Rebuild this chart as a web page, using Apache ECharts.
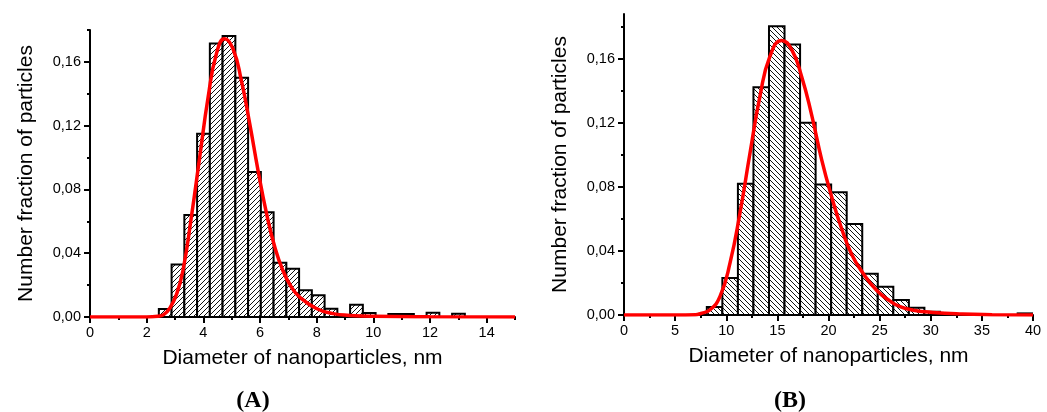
<!DOCTYPE html>
<html>
<head>
<meta charset="utf-8">
<script src="https://cdn.jsdelivr.net/npm/echarts@6/dist/echarts.min.js"></script>
<style>
  html, body { margin: 0; padding: 0; background: #ffffff; }
  #chart { width: 1047px; height: 412px; }
</style>
</head>
<body>
<div id="chart"></div>
<script>
// ---------------- DATA ----------------
// Panel A: histogram bins (left edges, nm), common bin width, number fractions
const binLeftA = [2.43, 2.88, 3.33, 3.78, 4.23, 4.68, 5.13, 5.58, 6.03, 6.48, 6.93, 7.38, 7.83, 8.28, 8.73, 9.18, 9.63, 10.53, 10.98, 11.88, 12.78];
const binWidthA = 0.45;
const fracA = [0.005, 0.033, 0.064, 0.115, 0.1715, 0.1763, 0.150, 0.091, 0.0657, 0.0341, 0.0303, 0.0167, 0.0136, 0.0052, 0.001, 0.0077, 0.0025, 0.0019, 0.0019, 0.0027, 0.002];
// Panel A: fitted curve
const fitXA = [0, 2.0, 2.4, 2.6, 2.81, 3.05, 3.28, 3.58, 3.87, 4.17, 4.46, 4.75, 5.05, 5.34, 5.64, 5.93, 6.23, 6.52, 6.81, 7.10, 7.40, 7.99, 8.58, 9.17, 10.0, 12.0, 15.0];
const fitYA = [0, 0, 0.0005, 0.0015, 0.0053, 0.014, 0.029, 0.063, 0.100, 0.138, 0.165, 0.1745, 0.168, 0.1485, 0.121, 0.092, 0.065, 0.044, 0.029, 0.019, 0.0125, 0.0053, 0.0021, 0.001, 0.0004, 0.0001, 0];

// Panel B
const binLeftB = [8.1, 9.62, 11.14, 12.66, 14.18, 15.7, 17.22, 18.74, 20.26, 21.78, 23.3, 24.82, 26.34, 27.86, 29.38, 30.9, 32.42, 38.5];
const binWidthB = 1.52;
const fracB = [0.005, 0.0231, 0.0819, 0.1423, 0.1804, 0.169, 0.120, 0.0815, 0.0767, 0.0569, 0.0258, 0.0177, 0.0094, 0.0046, 0.002, 0.001, 0.0005, 0.001];
const fitXB = [0, 5, 7.0, 7.44, 8.42, 9.39, 10.37, 11.35, 12.32, 13.3, 14.28, 15.42, 16.4, 17.37, 18.35, 19.33, 20.3, 21.28, 22.26, 23.39, 24.7, 26.0, 27.0, 28.3, 30.2, 33.1, 36.0, 40.0];
const fitYB = [0, 0, 0.0002, 0.0008, 0.0033, 0.0116, 0.0325, 0.064, 0.101, 0.1367, 0.1617, 0.1715, 0.1658, 0.149, 0.125, 0.097, 0.074, 0.054, 0.038, 0.026, 0.0155, 0.0088, 0.0052, 0.003, 0.0016, 0.0006, 0.0002, 0];

// Tick values
const yMajorTicks = [0, 0.04, 0.08, 0.12, 0.16];
const yMinorTicks = [0.02, 0.06, 0.10, 0.14, 0.18];
const xMajorA = [0, 2, 4, 6, 8, 10, 12, 14];
const xMinorA = [1, 3, 5, 7, 9, 11, 13, 15];
const xMajorB = [0, 5, 10, 15, 20, 25, 30, 35, 40];
const xMinorB = [2.5, 7.5, 12.5, 17.5, 22.5, 27.5, 32.5, 37.5];

const xTitle = 'Diameter of nanoparticles, nm';
const yTitle = 'Number fraction of particles';

// ---------------- STYLE HELPERS ----------------
function hatch(forward) {
  const s = 5;
  const c = document.createElement('canvas');
  c.width = s; c.height = s;
  const g = c.getContext('2d');
  g.fillStyle = '#ffffff';
  g.fillRect(0, 0, s, s);
  g.strokeStyle = '#111';
  g.lineWidth = 1;
  g.beginPath();
  for (let k = -s; k <= s; k += s) {
    if (forward) { g.moveTo(k, s); g.lineTo(k + s, 0); }
    else { g.moveTo(k, 0); g.lineTo(k + s, s); }
  }
  g.stroke();
  return c;
}
const patA = hatch(true);
const patB = hatch(false);

const FONT = '"Liberation Sans", Arial, sans-serif';
const fmtY = v => v.toFixed(2).replace('.', ',');

function histData(lefts, w, vals) {
  return lefts.map((l, i) => [l, l + w, vals[i]]);
}
function lineData(xs, ys) { return xs.map((x, i) => [x, ys[i]]); }

function histRender(pattern) {
  return function (params, api) {
    const p0 = api.coord([api.value(0), 0]);
    const p1 = api.coord([api.value(1), api.value(2)]);
    return {
      type: 'rect',
      shape: { x: p0[0], y: p1[1], width: p1[0] - p0[0], height: p0[1] - p1[1] },
      style: { fill: { image: pattern, repeat: 'repeat' }, stroke: '#000', lineWidth: 2 }
    };
  };
}

function xAxes(gridIndex, max, major, minor) {
  const base = {
    type: 'value', gridIndex, min: 0, max, position: 'bottom',
    splitLine: { show: false }
  };
  return [
    Object.assign({}, base, {
      name: xTitle, nameLocation: 'middle', nameGap: 31,
      nameTextStyle: { fontFamily: FONT, fontSize: 21, color: '#000' },
      axisLine: { show: true, onZero: false, lineStyle: { color: '#000', width: 2 } },
      axisTick: { show: true, inside: false, length: 6, customValues: major, lineStyle: { color: '#000', width: 2 } },
      axisLabel: { show: true, customValues: major, margin: 8, fontFamily: FONT, fontSize: 14.5, color: '#000' }
    }),
    Object.assign({}, base, {
      axisLine: { show: false, onZero: false },
      axisTick: { show: true, inside: false, length: 3, customValues: minor, lineStyle: { color: '#000', width: 2 } },
      axisLabel: { show: false }
    })
  ];
}
function yAxes(gridIndex, max) {
  const base = {
    type: 'value', gridIndex, min: 0, max, position: 'left',
    splitLine: { show: false }
  };
  return [
    Object.assign({}, base, {
      name: yTitle, nameLocation: 'middle', nameGap: 53,
      nameTextStyle: { fontFamily: FONT, fontSize: 21, color: '#000' },
      axisLine: { show: true, onZero: false, lineStyle: { color: '#000', width: 2 } },
      axisTick: { show: true, inside: false, length: 6, customValues: yMajorTicks, lineStyle: { color: '#000', width: 2 } },
      axisLabel: { show: true, customValues: yMajorTicks, margin: 9, formatter: fmtY, fontFamily: FONT, fontSize: 14.5, color: '#000' }
    }),
    Object.assign({}, base, {
      axisLine: { show: false, onZero: false },
      axisTick: { show: true, inside: false, length: 3, customValues: yMinorTicks, lineStyle: { color: '#000', width: 2 } },
      axisLabel: { show: false }
    })
  ];
}

const chart = echarts.init(document.getElementById('chart'), null, { renderer: 'canvas' });
chart.setOption({
  backgroundColor: '#ffffff',
  animation: false,
  grid: [
    { left: 90, top: 30, width: 425, height: 287, containLabel: false },
    { left: 624, top: 14, width: 409, height: 301, containLabel: false }
  ],
  xAxis: [].concat(xAxes(0, 15, xMajorA, xMinorA), xAxes(1, 40, xMajorB, xMinorB)),
  yAxis: [].concat(yAxes(0, 0.18), yAxes(1, 0.188)),
  title: [
    { text: '(A)', left: 253, top: 389, padding: 0, textAlign: 'center',
      textStyle: { fontFamily: '"Liberation Serif", "Times New Roman", serif', fontWeight: 'bold', fontSize: 24, lineHeight: 24, color: '#000' } },
    { text: '(B)', left: 790, top: 389, padding: 0, textAlign: 'center',
      textStyle: { fontFamily: '"Liberation Serif", "Times New Roman", serif', fontWeight: 'bold', fontSize: 24, lineHeight: 24, color: '#000' } }
  ],
  series: [
    { type: 'custom', xAxisIndex: 0, yAxisIndex: 0, renderItem: histRender(patA),
      data: histData(binLeftA, binWidthA, fracA), clip: true, z: 2 },
    { type: 'line', xAxisIndex: 0, yAxisIndex: 0, data: lineData(fitXA, fitYA),
      smooth: 0.5, showSymbol: false, clip: true,
      lineStyle: { color: '#ff0000', width: 3.5 }, z: 3 },
    { type: 'custom', xAxisIndex: 2, yAxisIndex: 2, renderItem: histRender(patB),
      data: histData(binLeftB, binWidthB, fracB), clip: true, z: 2 },
    { type: 'line', xAxisIndex: 2, yAxisIndex: 2, data: lineData(fitXB, fitYB),
      smooth: 0.5, showSymbol: false, clip: true,
      lineStyle: { color: '#ff0000', width: 3.5 }, z: 3 }
  ]
});
</script>
</body>
</html>
